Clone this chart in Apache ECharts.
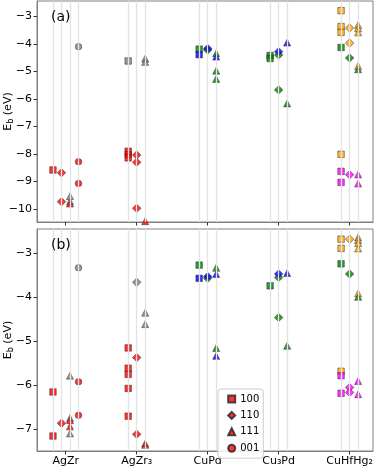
<!DOCTYPE html>
<html><head><meta charset="utf-8">
<script src="https://cdn.jsdelivr.net/npm/echarts@6/dist/echarts.min.js"></script>
<style>html,body{margin:0;padding:0;background:#fff}#c{width:374px;height:467px}</style>
</head><body><div id="c"></div>
<script>
// ---- data ----
const categories = ['AgZr', 'AgZr₃', 'CuPd', 'Cu₃Pd', 'CuHfHg₂'];
const facets = ['100', '110', '111', '001'];
const yTicksA = [-10, -9, -8, -7, -6, -5, -4, -3];
const yTicksB = [-7, -6, -5, -4, -3];

// panel (a): [facet, colour, E_b]
const a_AgZr = [
  ['100','red',-8.58],
  ['110','red',-8.68],['110','red',-9.73],
  ['111','grey',-9.53],['111','grey',-9.72],['111','red',-9.80],
  ['001','grey',-4.10],['001','red',-8.28],['001','red',-9.07]
];
const a_AgZr3 = [
  ['100','grey',-4.62],['100','red',-7.90],['100','red',-8.02],['100','red',-8.14],
  ['110','red',-8.04],['110','red',-8.30],['110','red',-9.97],
  ['111','grey',-4.53],['111','grey',-4.65],['111','red',-10.44]
];
const a_CuPd = [
  ['100','green',-4.19],['100','blue',-4.39],
  ['110','green',-4.22],['110','blue',-4.17],
  ['111','green',-4.34],['111','blue',-4.46],['111','green',-4.97],['111','green',-5.27]
];
const a_Cu3Pd = [
  ['100','green',-4.42],['100','green',-4.53],
  ['110','green',-4.40],['110','blue',-4.28],['110','green',-5.67],
  ['111','blue',-3.95],['111','green',-6.16]
];
const a_CuHfHg2 = [
  ['100','orange',-2.79],['100','orange',-3.37],['100','orange',-3.58],['100','green',-4.13],
  ['100','orange',-8.01],['100','magenta',-8.63],['100','magenta',-9.03],
  ['110','orange',-3.42],['110','orange',-3.97],['110','green',-4.51],['110','magenta',-8.75],
  ['111','orange',-3.31],['111','orange',-3.43],['111','orange',-3.58],['111','orange',-4.80],
  ['111','green',-4.92],['111','magenta',-8.74],['111','magenta',-9.07]
];
// panel (b)
const b_AgZr = [
  ['100','red',-6.15],['100','red',-7.15],
  ['110','red',-6.86],
  ['111','grey',-5.78],['111','grey',-6.74],['111','red',-6.79],['111','red',-6.93],['111','grey',-7.09],
  ['001','grey',-3.33],['001','red',-5.92],['001','red',-6.68]
];
const b_AgZr3 = [
  ['100','red',-5.15],['100','red',-5.61],['100','red',-5.75],['100','red',-6.07],['100','red',-6.70],
  ['110','grey',-3.66],['110','red',-5.37],['110','red',-7.11],
  ['111','grey',-4.35],['111','grey',-4.61],['111','grey',-7.35],['111','red',-7.32]
];
const b_CuPd = [
  ['100','green',-3.27],['100','blue',-3.57],
  ['110','green',-3.57],['110','blue',-3.53],
  ['111','green',-3.33],['111','blue',-3.47],['111','green',-5.15],['111','blue',-5.33]
];
const b_Cu3Pd = [
  ['100','green',-3.74],
  ['110','green',-3.55],['110','blue',-3.47],['110','green',-4.46],
  ['111','blue',-3.45],['111','green',-5.10]
];
const b_CuHfHg2 = [
  ['100','orange',-2.68],['100','orange',-2.89],['100','green',-3.24],['100','orange',-5.68],
  ['100','magenta',-5.78],['100','magenta',-6.18],
  ['110','orange',-2.68],['110','green',-3.47],['110','magenta',-6.05],['110','magenta',-6.16],
  ['111','orange',-2.64],['111','orange',-2.70],['111','orange',-2.77],['111','orange',-2.89],
  ['111','orange',-3.91],['111','green',-3.99],['111','magenta',-5.90],['111','magenta',-6.20]
];
const panelA = [a_AgZr, a_AgZr3, a_CuPd, a_Cu3Pd, a_CuHfHg2];
const panelB = [b_AgZr, b_AgZr3, b_CuPd, b_Cu3Pd, b_CuHfHg2];

// ---- styling ----
const colorMap = {red:'#ff0000', grey:'#808080', blue:'#0000ff', green:'#008000', orange:'#ffa500', magenta:'#ff00ff'};
const symbolMap = {'100':'rect','110':'diamond','111':'triangle','001':'circle'};
const sizeMap = {'100':6.5,'110':8.5,'111':7,'001':6.5};
const offsets = {1:[0], 2:[-0.06,0.06], 3:[-0.12,0,0.12], 4:[-0.18,-0.06,0.06,0.18]};
const FONT = 'DejaVu Sans';
const minus = v => String(v).replace('-', '\u2212');

function buildPanel(panel, gi) {
  const lines = [];
  const byFacet = {};
  facets.forEach(f => byFacet[f] = []);
  panel.forEach((rows, ci) => {
    const present = facets.filter(f => rows.some(r => r[0] === f));
    const off = offsets[present.length];
    present.forEach((f, k) => lines.push(ci + off[k]));
    rows.forEach(r => {
      const x = ci + off[present.indexOf(r[0])];
      byFacet[r[0]].push({value:[x, r[2]], itemStyle:{color: colorMap[r[1]]}});
    });
  });
  const series = [{
    type:'scatter', xAxisIndex:gi, yAxisIndex:gi, data:[], silent:true, z:1,
    markLine:{silent:true, symbol:['none','none'], label:{show:false}, animation:false,
      lineStyle:{color:'#e2e2e2', width:1.3, type:'solid'},
      data: lines.map(x => ({xAxis:x}))}
  }];
  facets.forEach(f => {
    series.push({
      name:f, type:'scatter', xAxisIndex:gi, yAxisIndex:gi, z:3,
      symbol:symbolMap[f], symbolSize:sizeMap[f],
      itemStyle:{color:'#ff0000', borderColor:'#222', borderWidth:0.6},
      data: byFacet[f]
    });
  });
  return series;
}

const chart = echarts.init(document.getElementById('c'), null, {renderer:'canvas'});
const xBase = gi => ({
  type:'value', gridIndex:gi, min:-0.405, max:4.33,
  splitLine:{show:false},
  axisLine:{show:true, onZero:false, lineStyle:{color:'#808080'}},
  axisTick:{show:true, customValues:[0,1,2,3,4], length:3.5, lineStyle:{color:'#333'}},
  axisLabel:{show: gi === 1, customValues:[0,1,2,3,4], margin:5, color:'#000',
    fontFamily:FONT, fontSize:11,
    formatter: v => categories[Math.round(v)]}
});
const yBase = (gi, mn, mx, ticks) => ({
  type:'value', gridIndex:gi, min:mn, max:mx,
  splitLine:{show:false},
  axisLine:{show:true, onZero:false, lineStyle:{color:'#808080'}},
  axisTick:{show:true, customValues:ticks, length:3.5, lineStyle:{color:'#333'}},
  axisLabel:{customValues:ticks, margin:5, color:'#000', fontFamily:FONT, fontSize:11, formatter: minus},
  name:'E{s|b} (eV)', nameLocation:'middle', nameGap:22, nameMoveOverlap:false,
  nameTextStyle:{fontFamily:FONT, fontSize:11, color:'#000',
    rich:{s:{fontSize:8, fontFamily:FONT, color:'#000', verticalAlign:'bottom', padding:[6,0,0,0]}}}
});

chart.setOption({
  animation:false,
  backgroundColor:'#fff',
  grid:[
    {left:37, right:1, top:1, height:221, show:true, borderColor:'#808080', borderWidth:1, containLabel:false, outerBoundsMode:'none'},
    {left:37, right:1, top:229, height:222, show:true, borderColor:'#808080', borderWidth:1, containLabel:false, outerBoundsMode:'none'}
  ],
  xAxis:[xBase(0), xBase(1)],
  yAxis:[yBase(0, -10.47, -2.44, yTicksA), yBase(1, -7.49, -2.45, yTicksB)],
  title:[
    {text:'(a)', left:46, top:5, textStyle:{fontFamily:FONT, fontSize:14, fontWeight:'normal', color:'#000'}},
    {text:'(b)', left:46, top:233, textStyle:{fontFamily:FONT, fontSize:14, fontWeight:'normal', color:'#000'}}
  ],
  legend:{
    orient:'vertical', left:218, top:389,
    itemWidth:7, itemHeight:7, itemGap:6.4,
    padding:[5,4,5,9.2],
    borderColor:'#ccc', borderWidth:1, borderRadius:3, backgroundColor:'rgba(255,255,255,0.85)',
    textStyle:{fontFamily:FONT, fontSize:10, color:'#000', lineHeight:7},
    data: facets.map(f => ({name:f, icon:symbolMap[f]}))
  },
  series: buildPanel(panelA, 0).concat(buildPanel(panelB, 1))
});
</script></body></html>
